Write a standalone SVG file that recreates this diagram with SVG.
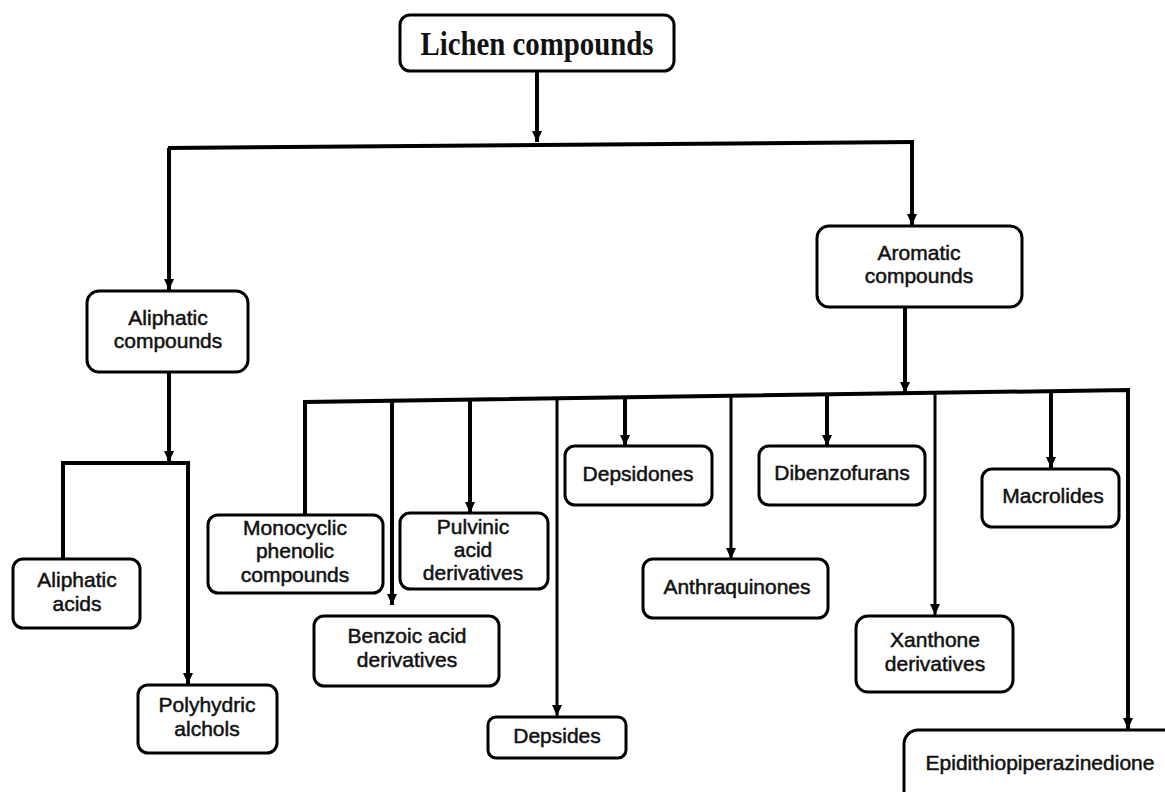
<svg xmlns="http://www.w3.org/2000/svg" width="1165" height="792" viewBox="0 0 1165 792">
<style>
.box{fill:#fff;stroke:#000;stroke-width:3}
.t{font-family:"Liberation Sans",Arial,sans-serif;font-size:21px;fill:#111;stroke:#111;stroke-width:0.5;text-anchor:middle}
.title{font-family:"Liberation Serif","Times New Roman",serif;font-size:33px;font-weight:bold;fill:#111;text-anchor:middle}
.c{stroke:#000;stroke-width:4;fill:none}
.c3{stroke:#000;stroke-width:3;fill:none}
</style>
<defs>
<marker id="ah" markerUnits="userSpaceOnUse" markerWidth="11" markerHeight="10" refX="11" refY="5" orient="auto" viewBox="0 0 11 10">
<path d="M0,0 L11,5 L0,10 z" fill="#000"/>
</marker>
</defs>
<rect width="1165" height="792" fill="#fff"/>
<g id="connectors">
<line class="c" x1="537" y1="71" x2="537" y2="142" marker-end="url(#ah)"/>
<line class="c" x1="168" y1="148" x2="914" y2="142"/>
<line class="c" x1="169" y1="148" x2="169" y2="290" marker-end="url(#ah)"/>
<line class="c" x1="912" y1="142" x2="912" y2="225" marker-end="url(#ah)"/>
<line class="c" x1="169" y1="372" x2="169" y2="462" marker-end="url(#ah)"/>
<polyline class="c" points="63,558 63,463 188,463 188,684" marker-end="url(#ah)"/>
<line class="c" x1="905" y1="307" x2="905" y2="393" marker-end="url(#ah)"/>
<polyline class="c" points="305,514 305,402 1128,390 1128,729" marker-end="url(#ah)"/>
<line class="c" x1="392" y1="401" x2="392" y2="605" marker-end="url(#ah)"/>
<line class="c" x1="470" y1="400" x2="470" y2="513" marker-end="url(#ah)"/>
<line class="c3" x1="557" y1="399" x2="557" y2="716" marker-end="url(#ah)"/>
<line class="c" x1="625" y1="398" x2="625" y2="446" marker-end="url(#ah)"/>
<line class="c3" x1="731" y1="397" x2="731" y2="559" marker-end="url(#ah)"/>
<line class="c" x1="827" y1="395" x2="827" y2="446" marker-end="url(#ah)"/>
<line class="c3" x1="935" y1="394" x2="935" y2="615" marker-end="url(#ah)"/>
<line class="c" x1="1051" y1="392" x2="1051" y2="468" marker-end="url(#ah)"/>
</g>
<g id="lichen">
<rect class="box" x="400" y="15" width="274" height="56" rx="10"/>
<text class="title" x="537" y="55" textLength="233" lengthAdjust="spacingAndGlyphs">Lichen compounds</text>
</g>
<g id="aliphatic">
<rect class="box" x="87" y="291" width="161" height="81" rx="12"/>
<text class="t" x="168" y="325">Aliphatic</text>
<text class="t" x="168" y="348">compounds</text>
</g>
<g id="aromatic">
<rect class="box" x="817" y="226" width="205" height="81" rx="12"/>
<text class="t" x="919" y="260">Aromatic</text>
<text class="t" x="919" y="283">compounds</text>
</g>
<g id="aliphatic-acids">
<rect class="box" x="13" y="559" width="127" height="69" rx="10"/>
<text class="t" x="77" y="587">Aliphatic</text>
<text class="t" x="77" y="611">acids</text>
</g>
<g id="polyhydric">
<rect class="box" x="138" y="685" width="139" height="68" rx="10"/>
<text class="t" x="207" y="712">Polyhydric</text>
<text class="t" x="207" y="736">alchols</text>
</g>
<g id="monocyclic">
<rect class="box" x="208" y="515" width="175" height="78" rx="10"/>
<text class="t" x="295" y="535">Monocyclic</text>
<text class="t" x="295" y="558">phenolic</text>
<text class="t" x="295" y="582">compounds</text>
</g>
<g id="pulvinic">
<rect class="box" x="400" y="513" width="148" height="76" rx="10"/>
<text class="t" x="473" y="534">Pulvinic</text>
<text class="t" x="473" y="557">acid</text>
<text class="t" x="473" y="580">derivatives</text>
</g>
<g id="benzoic">
<rect class="box" x="314" y="616" width="185" height="70" rx="10"/>
<text class="t" x="407" y="643">Benzoic acid</text>
<text class="t" x="407" y="667">derivatives</text>
</g>
<g id="depsides">
<rect class="box" x="488" y="717" width="138" height="41" rx="8"/>
<text class="t" x="557" y="743">Depsides</text>
</g>
<g id="depsidones">
<rect class="box" x="565" y="446" width="147" height="59" rx="10"/>
<text class="t" x="638" y="481">Depsidones</text>
</g>
<g id="anthraquinones">
<rect class="box" x="643" y="559" width="185" height="59" rx="10"/>
<text class="t" x="737" y="594">Anthraquinones</text>
</g>
<g id="dibenzofurans">
<rect class="box" x="759" y="446" width="166" height="59" rx="10"/>
<text class="t" x="842" y="480">Dibenzofurans</text>
</g>
<g id="xanthone">
<rect class="box" x="856" y="616" width="157" height="76" rx="12"/>
<text class="t" x="935" y="647">Xanthone</text>
<text class="t" x="935" y="671">derivatives</text>
</g>
<g id="macrolides">
<rect class="box" x="982" y="469" width="137" height="58" rx="10"/>
<text class="t" x="1053" y="503">Macrolides</text>
</g>
<g id="epidithio">
<rect class="box" x="904" y="730" width="290" height="90" rx="14"/>
<text class="t" x="1040" y="770">Epidithiopiperazinedione</text>
</g>
</svg>
